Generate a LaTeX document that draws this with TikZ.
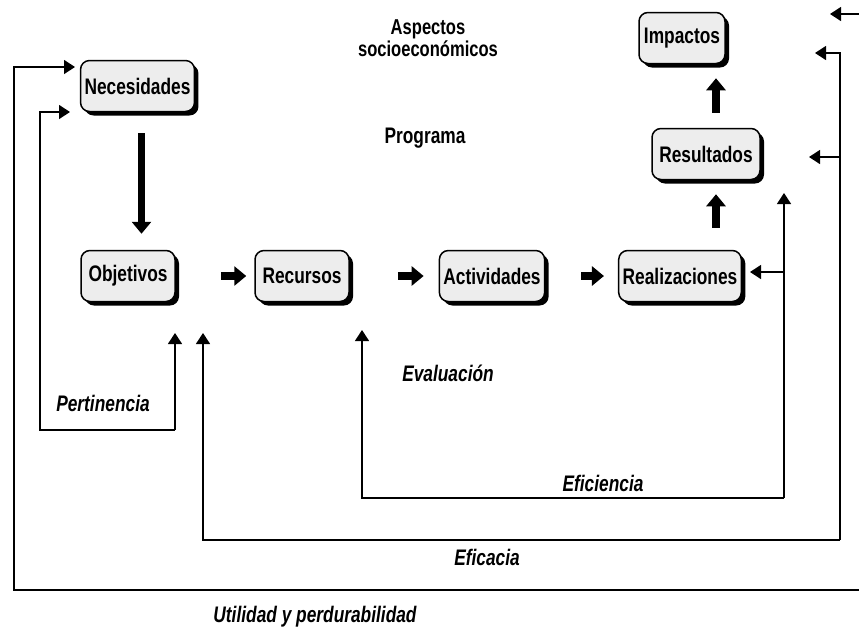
\documentclass[tikz,border=0pt]{standalone}
\usepackage{fontspec}
\setmainfont{Liberation Sans}[FakeStretch=0.77]
\usepackage{tikz}
\usetikzlibrary{arrows.meta,shadows,positioning}

\begin{document}
\begin{tikzpicture}[x=1pt,y=-1pt,
    font=\bfseries\fontsize{22.5}{24}\selectfont,
    box/.style={draw,line width=1.5pt,rounded corners=9pt,fill=gray!14,
        minimum height=51pt,minimum width=94pt,inner xsep=4pt,
        drop shadow={shadow xshift=4pt,shadow yshift=-4pt,fill=black,opacity=1}},
    bigarrow/.style={line width=7.5pt,-{Triangle[length=12pt,width=19pt]}},
    fb/.style={line width=1.3pt,-{Triangle[length=11pt,width=14pt]}},
    lbl/.style={font=\bfseries\itshape\fontsize{22.5}{24}\selectfont}]
  \useasboundingbox (0,0) rectangle (859,630);
  % boxes
  \node[box] (nec) at (137.5,86) {Necesidades};
  \node[box,minimum width=86pt] (imp) at (682,38) {Impactos};
  \node[box,minimum width=108pt] (res) at (706,154) {Resultados};
  \node[box] (obj) at (128,276) {Objetivos};
  \node[box] (rec) at (302,276) {Recursos};
  \node[box] (act) at (492,276) {Actividades};
  \node[box] (real) at (680,276) {Realizaciones};
  % texts
  \node[align=center,font=\bfseries\fontsize{21.5}{22}\selectfont] (asp) at (428,38) {Aspectos\\socioeconómicos};
  \node (prog) at (425,138) {Programa};
  \node[lbl] (eval) at (448,373) {Evaluación};
  \node[lbl] (pert) at (103,403) {Pertinencia};
  \node[lbl] (efi) at (603,483) {Eficiencia};
  \node[lbl] (efc) at (487,557) {Eficacia};
  \node[lbl] (util) at (315,617) {Utilidad y perdurabilidad};
  % main chain
  \draw[bigarrow,shorten <=21pt,shorten >=16pt] ([xshift=4pt]nec.south) -- ([xshift=4pt]nec.south |- obj.north);
  \draw[bigarrow,shorten <=45pt,shorten >=8pt] (obj.east) -- (rec.west);
  \draw[bigarrow,shorten <=48pt,shorten >=15pt] (rec.east) -- (act.west);
  \draw[bigarrow,shorten <=36pt,shorten >=14pt] (act.east) -- (real.west);
  \draw[bigarrow,shorten <=22pt,shorten >=14pt] ([xshift=36pt]real.north) -- ([xshift=36pt]real.north |- res.south);
  \draw[bigarrow,shorten <=15pt,shorten >=14pt] ([xshift=10pt]res.north) -- ([xshift=10pt]res.north |- imp.south);
  % feedback loops
  \coordinate (pertin) at (70,112);
  \coordinate (pertout) at (175,333);
  \draw[fb] (pertout |- 0,430) -- (pertout);
  \draw[fb] (pertout |- 0,430) -| (40,112) -- (pertin);
  \coordinate (efiup) at (784,193);
  \coordinate (efireal) at (750,272);
  \coordinate (efiout) at (362,330);
  \draw[fb] (efiup |- 0,498) -| (efiout);
  \draw[fb] (efiup |- 0,498) -- (efiup);
  \draw[fb] (efiup |- efireal) -- (efireal);
  \coordinate (efcimp) at (815,53);
  \coordinate (efcres) at (809,157);
  \coordinate (efcout) at (203,333);
  \draw[fb] (840,540) -| (efcout);
  \draw[fb] (840,540) |- (efcimp);
  \draw[fb] (840,157) -- (efcres);
  \coordinate (utilin) at (75,67);
  \coordinate (utilr) at (830,14);
  \draw[fb] (859,590) -| (14,67) -- (utilin);
  \draw[fb] (859,14) -- (utilr);
\end{tikzpicture}
\end{document}
